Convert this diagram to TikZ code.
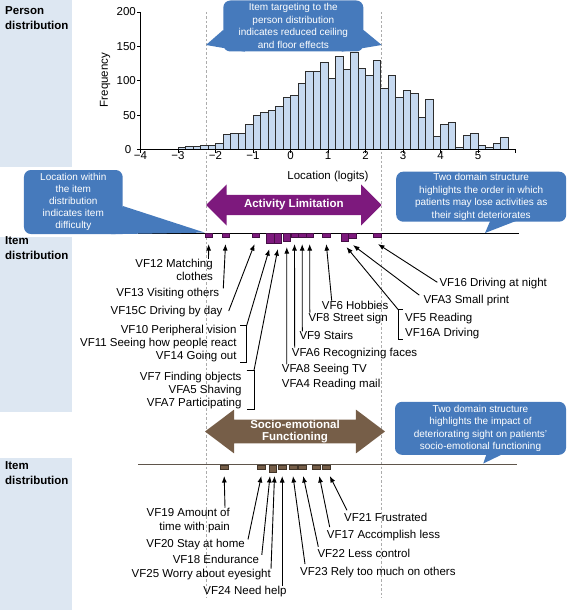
\documentclass[tikz,border=0pt]{standalone}
\usepackage{fontspec}
\setmainfont{Liberation Sans}
\usetikzlibrary{positioning,arrows.meta,shapes.arrows,calc}
\definecolor{panelblue}{RGB}{221,231,242}
\definecolor{barblue}{RGB}{198,217,240}
\definecolor{bargray}{RGB}{45,45,45}
\definecolor{callblue}{RGB}{70,122,188}
\definecolor{actpurple}{RGB}{125,25,125}
\definecolor{socbrown}{RGB}{118,94,72}
\definecolor{socline}{RGB}{95,85,75}
\tikzset{
    >={Latex[length=6.5pt,width=5pt]},
    panel/.style = {fill=panelblue, draw=none},
    rowtitle/.style = {
        font=\bfseries\fontsize{11.5}{15}\selectfont,
        align=left,
        anchor=north west,
        inner sep=0pt
    },
    histbar/.style = {fill=barblue, draw=bargray, line width=0.9pt},
    ticklbl/.style = {font=\fontsize{11.5}{13}\selectfont, inner sep=0pt},
    guide/.style = {draw=gray!65, line width=0.6pt, dash pattern=on 2.5pt off 2pt},
    callout/.style = {
        fill=callblue,
        rounded corners=7pt,
        text=white,
        align=center,
        inner sep=0pt,
        font=\fontsize{10}{12.5}\selectfont
    },
    domainarrow/.style = {
        double arrow,
        text=white,
        align=center,
        inner xsep=0pt,
        font=\bfseries\fontsize{11.5}{11.6}\selectfont
    },
    itembox/.style = {anchor=north, minimum width=7.5pt, inner sep=0pt, line width=0.5pt},
    actitem/.style = {itembox, fill=actpurple, draw=actpurple!55!black},
    socitem/.style = {itembox, fill=socbrown, draw=socbrown!55!black},
    lbl/.style = {font=\fontsize{11.5}{13.5}\selectfont, inner sep=0pt},
    pointer/.style = {draw, ->, line width=0.9pt},
    bracket/.style = {draw, line width=0.7pt},
}

\begin{document}
\begin{tikzpicture}[x=1pt,y=-1pt]
    \useasboundingbox (0,0) rectangle (567,610);

    % row panels
    \path[panel] (0,0) rectangle (72,167);
    \path[panel] (0,237) rectangle (72,411.7);
    \path[panel] (0,458) rectangle (72,610);
    \node[rowtitle] (perstitle) at (5,6.5) {Person\\distribution};
    \node[rowtitle] (acttitle) at (5,236.7) {Item\\distribution};
    \node[rowtitle] (soctitle) at (5,461.7) {Item\\distribution};

    % targeting guides
    \coordinate (floorT) at (206,12);
    \coordinate (floorB) at (206,598);
    \coordinate (ceilT) at (381.7,12);
    \coordinate (ceilB) at (381.7,598);
    \path[guide] (floorT) -- (floorB);
    \path[guide] (ceilT) -- (ceilB);

    % person histogram
    \foreach \f [count=\i from 0] in {3,4,4,6,6,9,22,24,23,37,49,54,57,63,76,79,96,113,113,127,
        103,135,117,141,118,108,129,89,107,76,86,81,47,73,19,37,39,3,20,24,6,3,9,17} {
        \path[histbar] ({178+7.5*\i},149.5) rectangle ++(7.5,{-0.6875*\f});
    }
    \draw[line width=0.9pt] (140.5,12) -- (140.5,149.5) -- (515.5,149.5);
    \foreach \v in {-4,...,6} {
        \draw[line width=0.9pt] ({290.5+37.5*\v},149.5) -- ++(0,3.5);
    }
    \foreach \v/\t in {-4/−4,-3/−3,-2/−2,-1/−1,0/0,1/1,2/2,3/3,4/4,5/5} {
        \node[ticklbl, anchor=north] at ({290.5+37.5*\v},151) {\t};
    }
    \foreach \v in {50,100,...,200} {
        \draw[line width=0.9pt] (140.5,{149.5-0.6875*\v}) -- ++(-3.5,0);
        \node[ticklbl, anchor=east] at (136,{149.5-0.6875*\v}) {\v};
    }
    \draw[line width=0.9pt] (140.5,149.5) -- ++(-3.5,0);
    \node[ticklbl, anchor=east] (zero) at (131.5,149.5) {0};
    \node[ticklbl, rotate=90] (freq) at (105,80) {Frequency};
    \node[ticklbl] (logits) at (328,177) {Location (logits)};

    % domains
    \node[domainarrow, fill=actpurple, minimum height=175.7pt, double arrow head extend=10.5pt,
        double arrow tip angle=90, inner ysep=4.6pt] (actlim) at (293.85,205) {Activity Limitation};
    \node[domainarrow, fill=socbrown, minimum height=180pt, double arrow head extend=10pt,
        double arrow tip angle=74, inner ysep=0.6pt] (socemo) at (295,431.5) {Socio-emotional\\Functioning};

    % item lines
    \coordinate (actL) at (138,233);
    \coordinate (actR) at (519,233);
    \coordinate (socL) at (138,464);
    \coordinate (socR) at (517,464);
    \draw[line width=0.8pt] (actL) -- (actR);
    \draw[socline, line width=0.8pt] (socL) -- (socR);

    % activity items
    \node[actitem, minimum height=4pt] (a1) at (208.7,232.6) {};
    \node[actitem, minimum height=4pt] (a2) at (225.5,232.6) {};
    \node[actitem, minimum height=4pt] (a3) at (255.5,232.6) {};
    \node[actitem, minimum height=10pt] (a4) at (270.3,232.6) {};
    \node[actitem, minimum height=10pt] (a5) at (277.8,232.6) {};
    \node[actitem, minimum height=8pt] (a6) at (286.8,232.6) {};
    \node[actitem, minimum height=4pt] (a7) at (294.5,232.6) {};
    \node[actitem, minimum height=4pt] (a8) at (302.2,232.6) {};
    \node[actitem, minimum height=4pt] (a9) at (309.7,232.6) {};
    \node[actitem, minimum height=4pt] (a10) at (326.3,232.6) {};
    \node[actitem, minimum height=8pt] (a11) at (344.5,232.6) {};
    \node[actitem, minimum height=5pt] (a12) at (352,232.6) {};
    \node[actitem, minimum height=4pt] (a13) at (377,232.6) {};

    % socio-emotional items
    \node[socitem, minimum height=4pt] (s1) at (224.2,464.5) {};
    \node[socitem, minimum height=4pt] (s2) at (261.3,464.5) {};
    \node[socitem, minimum height=7.5pt] (s3) at (272.5,464.5) {};
    \node[socitem, minimum height=4pt] (s4) at (282.2,464.5) {};
    \node[socitem, minimum height=4pt] (s5) at (293,464.5) {};
    \node[socitem, minimum height=4pt] (s6) at (302.2,464.5) {};
    \node[socitem, minimum height=4pt] (s7) at (316.3,464.5) {};
    \node[socitem, minimum height=4pt] (s8) at (326.3,464.5) {};

    % callouts
    \coordinate (floorTip) at (206,45);
    \coordinate (ceilTip) at (381.7,45);
    \coordinate (orderTip) at (485,233);
    \coordinate (impactTip) at (483.3,463.5);
    \node[callout, minimum width=140pt, minimum height=51pt] (target) at (293.3,26)
        {Item targeting to the\\person distribution\\indicates reduced ceiling\\and floor effects};
    \fill[callblue] ([yshift=-4pt]target.west) -- (floorTip) -- ([xshift=22pt]target.south west) -- cycle;
    \fill[callblue] ([yshift=-4pt]target.east) -- (ceilTip) -- ([xshift=-22pt]target.south east) -- cycle;
    \node[callout, minimum width=98.7pt, minimum height=64pt, font=\fontsize{10}{12}\selectfont]
        (itemloc) at (73.3,202) {Location within\\the item\\distribution\\indicates item\\difficulty};
    \fill[callblue] ([yshift=-4pt]itemloc.east) -- (a1.north west) -- ([xshift=-12pt]itemloc.south east) -- cycle;
    \node[callout, minimum width=170pt, minimum height=50pt] (order) at (481.2,196.7)
        {Two domain structure\\highlights the order in which\\patients may lose activities as\\their sight deteriorates};
    \fill[callblue] ([xshift=9pt,yshift=1pt]order.south) -- (orderTip) -- ([xshift=35pt,yshift=1pt]order.south) -- cycle;
    \node[callout, minimum width=171pt, minimum height=53pt] (impact) at (480.5,428.3)
        {Two domain structure\\highlights the impact of\\deteriorating sight on patients'\\socio-emotional functioning};
    \fill[callblue] ([xshift=6pt,yshift=1pt]impact.south) -- (impactTip) -- ([xshift=22.5pt,yshift=1pt]impact.south) -- cycle;

    % activity labels
    \node[lbl, anchor=east, align=right] (vf12) at (213,270) {VF12 Matching\\clothes};
    \node[lbl, anchor=east] (vf13) at (219.3,294) {VF13 Visiting others};
    \node[lbl, anchor=east] (vf15c) at (222.7,312) {VF15C Driving by day};
    \node[lbl, anchor=east, align=right, font=\fontsize{11.5}{13}\selectfont] (vf10) at (236.7,344)
        {VF10 Peripheral vision\\VF11 Seeing how people react\\VF14 Going out};
    \node[lbl, anchor=east, align=right, font=\fontsize{11.5}{13}\selectfont] (vf7) at (241.7,391)
        {VF7 Finding objects\\VFA5 Shaving\\VFA7 Participating};
    \node[lbl, anchor=west, align=left, font=\fontsize{11.5}{15}\selectfont] (vfa8) at (281.7,377.5)
        {VFA8 Seeing TV\\VFA4 Reading mail};
    \node[lbl, anchor=west] (vfa6) at (291.7,353.3) {VFA6 Recognizing faces};
    \node[lbl, anchor=west] (vf9) at (299.3,335.7) {VF9 Stairs};
    \node[lbl, anchor=west] (vf8) at (308.3,318.3) {VF8 Street sign};
    \node[lbl, anchor=west] (vf6) at (321.7,305) {VF6 Hobbies};
    \node[lbl, anchor=west, align=left, font=\fontsize{11.5}{15}\selectfont] (vf5) at (405,325.8)
        {VF5 Reading\\VF16A Driving};
    \node[lbl, anchor=west] (vfa3) at (423.3,300.7) {VFA3 Small print};
    \node[lbl, anchor=west] (vf16) at (439.3,283.3) {VF16 Driving at night};

    % socio-emotional labels
    \node[lbl, anchor=east, align=right, font=\fontsize{11.5}{14}\selectfont] (vf19) at (230,520.3)
        {VF19 Amount of\\time with pain};
    \node[lbl, anchor=east] (vf20) at (245,545) {VF20 Stay at home};
    \node[lbl, anchor=east] (vf18) at (259.3,559.3) {VF18 Endurance};
    \node[lbl, anchor=east] (vf25) at (271,574.3) {VF25 Worry about eyesight};
    \node[lbl, anchor=east] (vf24) at (286.7,591.7) {VF24 Need help};
    \node[lbl, anchor=west] (vf23) at (300,572.7) {VF23 Rely too much on others};
    \node[lbl, anchor=west] (vf22) at (317.3,553.3) {VF22 Less control};
    \node[lbl, anchor=west] (vf17) at (326.7,535.7) {VF17 Accomplish less};
    \node[lbl, anchor=west] (vf21) at (344,517.7) {VF21 Frustrated};

    % brackets for grouped items
    \coordinate (brA) at ([xshift=10pt]vf10.north east);
    \coordinate (brB) at ([xshift=12.3pt,yshift=2pt]vf7.north east);
    \coordinate (brC) at ([xshift=-6.7pt,yshift=3pt]vf5.north west);
    \path[bracket] ([xshift=3.5pt]vf10.north east) -- (brA) -- ([xshift=10pt]vf10.south east) -- ([xshift=3.5pt]vf10.south east);
    \path[bracket] ([xshift=5pt,yshift=2pt]vf7.north east) -- (brB) -- ([xshift=12.3pt]vf7.south east) -- ([xshift=5pt]vf7.south east);
    \path[bracket] ([xshift=-2pt,yshift=3pt]vf5.north west) -- (brC) -- ([xshift=-6.7pt]vf5.south west) -- ([xshift=-2pt]vf5.south west);

    % activity pointers
    \path[pointer] ([xshift=-4.5pt]vf12.north east) -- ([yshift=-7pt]a1.south);
    \path[pointer] ([xshift=4pt]vf13.north east) -- ([yshift=-7pt]a2.south);
    \path[pointer] ([xshift=6pt,yshift=1pt]vf15c.east) -- ([xshift=-1pt,yshift=-7pt]a3.south);
    \path[pointer] (brA) -- ([xshift=-1pt,yshift=-6pt]a4.south);
    \path[pointer] (brB) -- ([yshift=-6pt]a5.south);
    \path[pointer] ([xshift=5pt]vfa8.north west) -- ([yshift=-6pt]a6.south);
    \path[pointer] ([xshift=3pt]vfa6.north west) -- ([yshift=-7pt]a7.south);
    \path[pointer] ([xshift=3pt]vf9.north west) -- ([yshift=-7pt]a8.south);
    \path[pointer] ([xshift=1.5pt]vf8.north west) -- ([yshift=-7pt]a9.south);
    \path[pointer] ([xshift=10pt]vf6.north west) -- ([yshift=-7pt]a10.south);
    \path[pointer] (brC) -- ([xshift=2pt,yshift=-6pt]a11.south);
    \path[pointer] ([xshift=-4pt]vfa3.north west) -- ([xshift=1pt,yshift=-7pt]a12.south);
    \path[pointer] ([xshift=-2pt,yshift=1pt]vf16.west) -- ([xshift=1pt,yshift=-7pt]a13.south);

    % socio-emotional pointers
    \path[pointer] ([xshift=-5pt]vf19.north east) -- ([yshift=-7pt]s1.south);
    \path[pointer] ([xshift=3pt]vf20.north east) -- ([yshift=-7pt]s2.south);
    \path[pointer] ([xshift=2.5pt]vf18.north east) -- ([xshift=-2.5pt,yshift=-3.5pt]s3.south);
    \path[pointer] (vf25.north east) -- ([xshift=2pt,yshift=-3.5pt]s3.south);
    \path[pointer] ([xshift=-4.5pt]vf24.north east) -- ([yshift=-7pt]s4.south);
    \path[pointer] ([xshift=5pt,yshift=3pt]vf23.north west) -- ([yshift=-7pt]s5.south);
    \path[pointer] ([xshift=1pt,yshift=2pt]vf22.north west) -- ([xshift=1pt,yshift=-7pt]s6.south);
    \path[pointer] ([xshift=3pt,yshift=3pt]vf17.north west) -- ([xshift=3pt,yshift=-7pt]s7.south);
    \path[pointer] ([xshift=3pt,yshift=3pt]vf21.north west) -- ([xshift=3.5pt,yshift=-7pt]s8.south);
\end{tikzpicture}
\end{document}
